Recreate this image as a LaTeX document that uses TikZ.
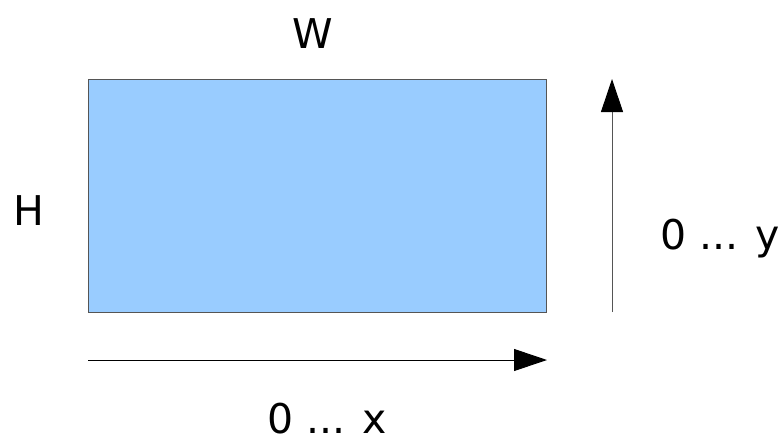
\documentclass[tikz,border=0pt]{standalone}
\usepackage{fontspec}
\setmainfont{DejaVu Sans}
\usetikzlibrary{arrows.meta}
\definecolor{boxblue}{HTML}{99CCFF}
\definecolor{edgegray}{HTML}{555555}
\tikzset{
  lbl/.style={font=\fontsize{41}{48}\selectfont, anchor=base, inner sep=0pt},
  axis/.style={line width=1pt, -{Triangle[length=33pt,width=22pt,black]}},
}
\begin{document}
\begin{tikzpicture}[x=1pt,y=-1pt]
\useasboundingbox (0,0) rectangle (781,442);
\node[draw=edgegray, fill=boxblue, line width=1.2pt, minimum width=458pt, minimum height=233pt, inner sep=0pt, anchor=north west] (box) at (88,79) {};
\coordinate (xs) at (88,360);
\coordinate (xe) at (547,360);
\coordinate (ys) at (612,312);
\coordinate (ye) at (612,79);
\draw[axis, black] (xs) -- (xe);
\draw[axis, edgegray] (ys) -- (ye);
\node[lbl] (w) at (313,48) {W};
\node[lbl] (h) at (29,225) {H};
\node[lbl] (y) at (720,249) {0 ... y};
\node[lbl] (x) at (327,433) {0 ... x};
\end{tikzpicture}
\end{document}
